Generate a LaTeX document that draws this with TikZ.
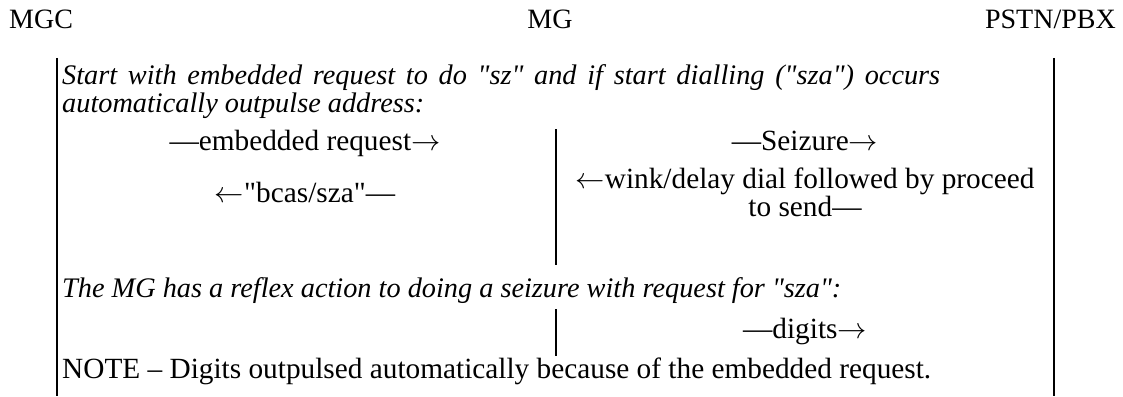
\RequirePackage{fix-cm}
\documentclass[tikz,border=0pt]{standalone}
\usepackage{fontspec}
\setmainfont{Liberation Serif}[Ligatures=TeXOff]
\newcommand{\ra}{$\rightarrow$}
\newcommand{\la}{$\leftarrow$}
\begin{document}
\begin{tikzpicture}[x=1pt,y=-1pt,
  head/.style={inner sep=0pt, font=\fontsize{28}{28}\selectfont},
  txt/.style={inner sep=0pt, font=\fontsize{29.3}{29.3}\selectfont},
  note/.style={inner sep=0pt, font=\fontsize{28.3}{28.3}\selectfont\itshape},
  rule/.style={line width=2.2pt}]
\useasboundingbox (0,0) rectangle (1123,396);

% column headings
\node[head, anchor=base west] (mgc)  at (9,29)    {MGC};
\node[head, anchor=base]      (mg)   at (550,29)  {MG};
\node[head, anchor=base east] (pstn) at (1116,29) {PSTN/PBX};

% outer rules of the table
\coordinate (lt) at (57,58);   \coordinate (lb) at (57,396);
\coordinate (rt) at (1054,58); \coordinate (rb) at (1054,396);
\draw[rule] (lt) -- (lb);
\draw[rule] (rt) -- (rb);

% first comment row (justified paragraph)
\node[note, anchor=base west] (c1a) at (62,84)
  {\makebox[878pt][s]{Start with embedded request to do "sz" and if start dialling ("sza") occurs}};
\node[note, anchor=base west] (c1b) at (62,112)
  {automatically outpulse address:};

% message exchange row
\coordinate (m1t) at (556,129); \coordinate (m1b) at (556,265);
\draw[rule] (m1t) -- (m1b);
\node[txt, anchor=base] (req)   at (305,150) {—embedded request\ra};
\node[txt, anchor=base] (bcas)  at (305,202) {\la"bcas/sza"—};
\node[txt, anchor=base] (seize) at (805,150) {—Seizure\ra};
\node[txt, anchor=base] (wink)  at (805,188) {\la wink/delay dial followed by proceed};
\node[txt, anchor=base] (send)  at (805,216) {to send—};

% second comment row
\node[note, anchor=base west] (c2) at (62,297)
  {The MG has a reflex action to doing a seizure with request for "sza":};

% digits row
\coordinate (m2t) at (556,309); \coordinate (m2b) at (556,356);
\draw[rule] (m2t) -- (m2b);
\node[txt, anchor=base] (dig) at (805,338) {—digits\ra};

% note
\node[txt, anchor=base west] (nt) at (62,378)
  {NOTE – Digits outpulsed automatically because of the embedded request.};
\end{tikzpicture}
\end{document}
